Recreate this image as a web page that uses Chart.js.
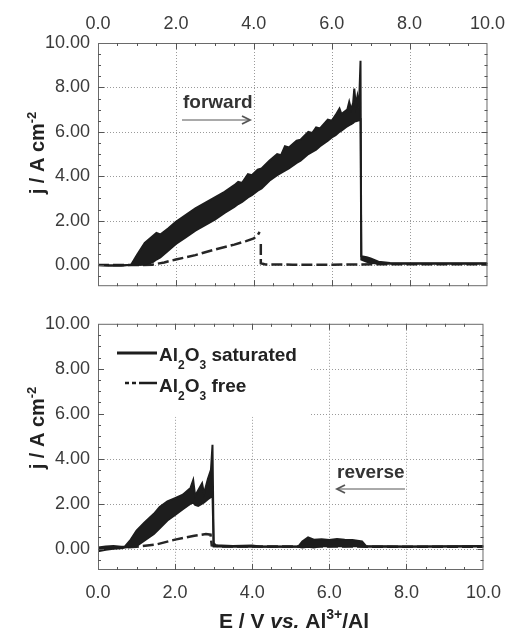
<!DOCTYPE html>
<html>
<head>
<meta charset="utf-8">
<script src="https://cdn.jsdelivr.net/npm/chart.js@4.4.1/dist/chart.umd.min.js"></script>
<style>
body{margin:0;background:#fff;}
#wrap{position:relative;width:513px;height:630px;}
canvas{position:absolute;left:0;}
#chartFwd{top:0;}
#chartRev{top:305px;}
</style>
</head>
<body>
<div id="wrap">
<canvas id="chartFwd" width="513" height="305" style="width:513px;height:305px"></canvas>
<canvas id="chartRev" width="513" height="325" style="width:513px;height:325px"></canvas>
</div>
<script>
// tick labels
var eTicks=[0,2,4,6,8,10];
var jTicks=[0,2,4,6,8,10];

// forward scan, Al2O3 saturated (upper / lower edge of the noisy band)
var fwdE    =[0.00,0.30,0.60,0.85,1.00,1.20,1.40,1.50,1.60,1.80,2.00,2.25,2.50,2.75,3.00,3.25,3.50,3.60,3.70,3.85,3.95,4.10,4.20,4.40,4.60,4.70,4.80,4.90,5.10,5.20,5.40,5.50,5.60,5.70,5.90,6.00,6.10,6.20,6.25,6.40,6.45,6.50,6.55,6.58,6.62,6.66,6.70,6.74,6.76,6.90,7.00,7.20,7.50,8.00,9.00,10.0];
var fwdSatHi=[0.00,-0.02,-0.02,0.02,0.45,1.00,1.30,1.45,1.38,1.65,1.95,2.25,2.55,2.80,3.05,3.30,3.60,3.75,3.70,4.10,4.05,4.30,4.35,4.70,5.00,4.95,5.35,5.30,5.60,5.65,6.00,5.95,6.20,6.15,6.55,6.50,6.75,7.05,6.80,7.00,7.35,7.00,7.30,7.95,7.20,7.60,7.10,9.20,0.40,0.35,0.30,0.15,0.10,0.08,0.08,0.08];
var fwdSatLo=[0.00,-0.02,-0.02,0.00,0.00,0.02,0.12,0.25,0.35,0.65,0.95,1.25,1.55,1.80,2.05,2.35,2.62,2.75,2.85,3.05,3.15,3.35,3.45,3.80,4.05,4.15,4.25,4.35,4.60,4.70,5.00,5.10,5.20,5.35,5.60,5.75,5.85,6.00,6.05,6.25,6.30,6.35,6.40,6.45,6.48,6.50,6.52,6.55,0.25,0.15,0.10,0.06,0.06,0.06,0.06,0.06];
// forward scan, Al2O3 free
var fwdFreeE=[0.00,1.00,1.40,1.70,2.00,2.50,3.00,3.50,3.80,4.00,4.10,4.15,4.16,4.18,4.18,4.30,5.00,6.00,6.65,8.00,10.0];
var fwdFree =[0.00,0.00,0.02,0.12,0.25,0.45,0.70,0.92,1.08,1.20,1.35,1.50,null,0.95,0.08,0.03,0.02,0.02,0.03,0.04,0.04];

// reverse scan, Al2O3 saturated
var revE    =[0.00,0.20,0.40,0.60,0.70,0.85,1.00,1.20,1.45,1.60,1.80,2.00,2.20,2.40,2.47,2.52,2.60,2.70,2.75,2.85,2.93,2.97,3.00,3.05,3.50,4.00,4.20,5.20,5.30,5.45,5.60,5.80,6.00,6.20,6.40,6.60,6.85,6.95,8.00,10.0];
var revSatHi=[0.05,0.10,0.12,0.08,0.10,0.40,0.80,1.15,1.55,1.85,2.10,2.25,2.40,2.70,3.05,2.35,2.60,2.90,2.45,3.10,3.50,4.62,0.25,0.15,0.12,0.14,0.10,0.10,0.32,0.50,0.40,0.42,0.38,0.43,0.40,0.38,0.32,0.12,0.10,0.12];
var revSatLo=[-0.12,-0.05,0.00,0.02,0.05,0.08,0.12,0.35,0.65,0.90,1.25,1.50,1.75,2.00,2.05,1.95,1.90,2.00,2.05,2.20,2.30,2.40,0.10,0.10,0.08,0.08,0.08,0.08,0.05,0.08,0.05,0.12,0.10,0.12,0.10,0.12,0.10,0.08,0.08,0.10];
// reverse scan, Al2O3 free
var revFreeE=[0.00,0.50,1.00,1.50,2.00,2.50,2.80,2.92,2.95,3.20,10.0];
var revFree =[-0.05,0.05,0.08,0.18,0.40,0.57,0.65,0.62,0.15,0.10,0.08];

var FONT='"Liberation Sans", Arial, Helvetica, sans-serif';
var INK='#1d1d1d';

function pts(xs,ys){
	var out=[];
	for(var i=0;i<xs.length;i++){
		out.push({x:xs[i],y:ys[i]});
	}
	return out;
}

function fixTicks(vals){
	return function(scale){
		scale.ticks=vals.map(function(v){return {value:v};});
	};
}

function runsWidth(ctx,runs){
	var w=0;
	runs.forEach(function(r){ctx.font=r.f;w+=ctx.measureText(r.t).width;});
	return w;
}

function drawRuns(ctx,runs,x,y){
	runs.forEach(function(r){
		ctx.font=r.f;
		ctx.fillText(r.t,x,y+(r.dy||0));
		x+=ctx.measureText(r.t).width;
	});
	return x;
}

function arrow(ctx,x1,x2,y){
	var dir=x2>x1?1:-1;
	ctx.save();
	ctx.strokeStyle='#555';
	ctx.lineWidth=1;
	ctx.beginPath();ctx.moveTo(x1,y);ctx.lineTo(x2,y);ctx.stroke();
	ctx.lineWidth=1.8;
	ctx.beginPath();
	ctx.moveTo(x2-dir*8,y-4);ctx.lineTo(x2,y);ctx.lineTo(x2-dir*8,y+4);
	ctx.stroke();
	ctx.restore();
}

var framePlugin={
	id:'frame',
	beforeDatasetsDraw:function(chart,args,opts){
		var ctx=chart.ctx,a=chart.chartArea,sx=chart.scales.x,sy=chart.scales.y;
		ctx.save();
		ctx.strokeStyle='#9a9a9a';
		ctx.lineWidth=1;
		ctx.setLineDash([1,2]);
		eTicks.forEach(function(v){
			if(v<=0||v>=10) return;
			var px=Math.round(sx.getPixelForValue(v))+0.5;
			ctx.beginPath();ctx.moveTo(px,a.top);ctx.lineTo(px,a.bottom);ctx.stroke();
		});
		jTicks.forEach(function(v){
			if(v>=10) return;
			var py=Math.round(sy.getPixelForValue(v))+0.5;
			ctx.beginPath();ctx.moveTo(a.left,py);ctx.lineTo(a.right,py);ctx.stroke();
		});
		ctx.setLineDash([]);
		if(opts.legend){
			ctx.fillStyle='#fff';
			ctx.fillRect(a.left+1,a.top+1,211,92);
		}
		ctx.restore();
	},
	afterDatasetsDraw:function(chart,args,opts){
		var ctx=chart.ctx,a=chart.chartArea,sx=chart.scales.x,sy=chart.scales.y;
		ctx.save();
		// frame
		ctx.strokeStyle='#6a6a6a';
		ctx.lineWidth=1;
		ctx.strokeRect(a.left+0.5,a.top+0.5,a.right-a.left-1,a.bottom-a.top-1);
		// inward ticks, major every 2, minor every 0.5
		ctx.strokeStyle='#555';
		ctx.beginPath();
		for(var i=1;i<20;i++){
			var v=i*0.5,len=(i%4==0)?6:3;
			var px=Math.round(sx.getPixelForValue(v))+0.5;
			ctx.moveTo(px,a.bottom);ctx.lineTo(px,a.bottom-len);
			ctx.moveTo(px,a.top);ctx.lineTo(px,a.top+len);
		}
		for(var k=-1;k<20;k++){
			var w=k*0.5,ln=(k%4==0)?6:3;
			var py=Math.round(sy.getPixelForValue(w))+0.5;
			ctx.moveTo(a.left,py);ctx.lineTo(a.left+ln,py);
			ctx.moveTo(a.right,py);ctx.lineTo(a.right-ln,py);
		}
		ctx.stroke();

		// y title
		ctx.fillStyle='#222';
		ctx.textAlign='left';
		ctx.textBaseline='alphabetic';
		var yRuns=[{t:'j / A cm',f:'bold 20px '+FONT},{t:'-2',f:'bold 13px '+FONT,dy:-8}];
		ctx.save();
		ctx.translate(44,opts.titleY);
		ctx.rotate(-Math.PI/2);
		drawRuns(ctx,yRuns,-runsWidth(ctx,yRuns)/2,0);
		ctx.restore();

		// x title
		if(opts.xTitle){
			var xRuns=[
				{t:'E / V ',f:'bold 21px '+FONT},
				{t:'vs.',f:'italic bold 21px '+FONT},
				{t:' Al',f:'bold 21px '+FONT},
				{t:'3+',f:'bold 14px '+FONT,dy:-9},
				{t:'/Al',f:'bold 21px '+FONT}
			];
			drawRuns(ctx,xRuns,294-runsWidth(ctx,xRuns)/2,323);
		}

		// direction note
		ctx.fillStyle='#333';
		ctx.font='bold 19px '+FONT;
		ctx.fillText(opts.note.text,opts.note.x,opts.note.y);
		arrow(ctx,opts.note.ax1,opts.note.ax2,opts.note.ay);

		// legend
		if(opts.legend){
			var big='bold 19px '+FONT,sm='bold 12px '+FONT;
			ctx.strokeStyle=INK;
			ctx.lineWidth=3;
			ctx.beginPath();ctx.moveTo(117,48);ctx.lineTo(157,48);ctx.stroke();
			ctx.lineWidth=2.5;
			ctx.setLineDash([4,3,4,3,40]);
			ctx.beginPath();ctx.moveTo(125,78);ctx.lineTo(157,78);ctx.stroke();
			ctx.setLineDash([]);
			ctx.fillStyle='#222';
			drawRuns(ctx,[{t:'Al',f:big},{t:'2',f:sm,dy:8},{t:'O',f:big},{t:'3',f:sm,dy:8},{t:' saturated',f:big}],159,56);
			drawRuns(ctx,[{t:'Al',f:big},{t:'2',f:sm,dy:8},{t:'O',f:big},{t:'3',f:sm,dy:8},{t:' free',f:big}],159,87);
		}
		ctx.restore();
	}
};

function makePanel(id,p){
	var yScale={
		type:'linear',min:-0.95,max:10,
		afterBuildTicks:fixTicks(jTicks),
		afterFit:function(s){s.width=98;},
		grid:{display:false,drawTicks:false},
		border:{display:false},
		ticks:{padding:8,color:'#3a3a3a',font:{family:FONT,size:18},
			callback:function(v){return Number(v).toFixed(2);}}
	};
	var xScale={
		type:'linear',position:p.xPos,min:0,max:10,
		afterBuildTicks:fixTicks(eTicks),
		afterFit:function(s){s.height=p.xHeight;},
		grid:{display:false,drawTicks:false},
		border:{display:false},
		ticks:{padding:p.xPad,maxRotation:0,autoSkip:false,color:'#3a3a3a',font:{family:FONT,size:18},
			callback:function(v){return Number(v).toFixed(1);}}
	};
	var config={
		type:'line',
		data:{
			datasets:[
				{data:pts(p.satE,p.satHi),borderColor:INK,backgroundColor:INK,borderWidth:2,pointRadius:0,fill:'+1',tension:0,xAxisID:'x',yAxisID:'y'},
				{data:pts(p.satE,p.satLo),borderColor:INK,borderWidth:2,pointRadius:0,fill:false,tension:0,xAxisID:'x',yAxisID:'y'},
				{data:pts(p.freeE,p.free),borderColor:'#262626',borderWidth:2.5,borderDash:[11,4],pointRadius:0,fill:false,tension:0,spanGaps:false,xAxisID:'x',yAxisID:'y'}
			]
		},
		options:{
			responsive:false,
			animation:false,
			layout:{padding:p.padding},
			scales:{x:xScale,y:yScale},
			plugins:{
				legend:{display:false},
				tooltip:{enabled:false},
				frame:p.frame
			}
		},
		plugins:[framePlugin]
	};
	var canvas=document.getElementById(id).getContext('2d');
	return new Chart(canvas,config);
}

makePanel('chartFwd',{
	satE:fwdE,satHi:fwdSatHi,satLo:fwdSatLo,freeE:fwdFreeE,free:fwdFree,
	xPos:'top',xHeight:43,xPad:8,
	padding:{left:0,right:23,top:0,bottom:15},
	frame:{titleY:153,legend:false,xTitle:false,
		note:{text:'forward',x:183,y:108,ax1:182,ax2:250,ay:120}}
});

makePanel('chartRev',{
	satE:revE,satHi:revSatHi,satLo:revSatLo,freeE:revFreeE,free:revFree,
	xPos:'bottom',xHeight:60,xPad:12,
	padding:{left:0,right:23,top:17,bottom:0},
	frame:{titleY:123,legend:true,xTitle:true,
		note:{text:'reverse',x:337,y:173,ax1:405,ax2:337,ay:184}}
});
</script>
</body>
</html>
